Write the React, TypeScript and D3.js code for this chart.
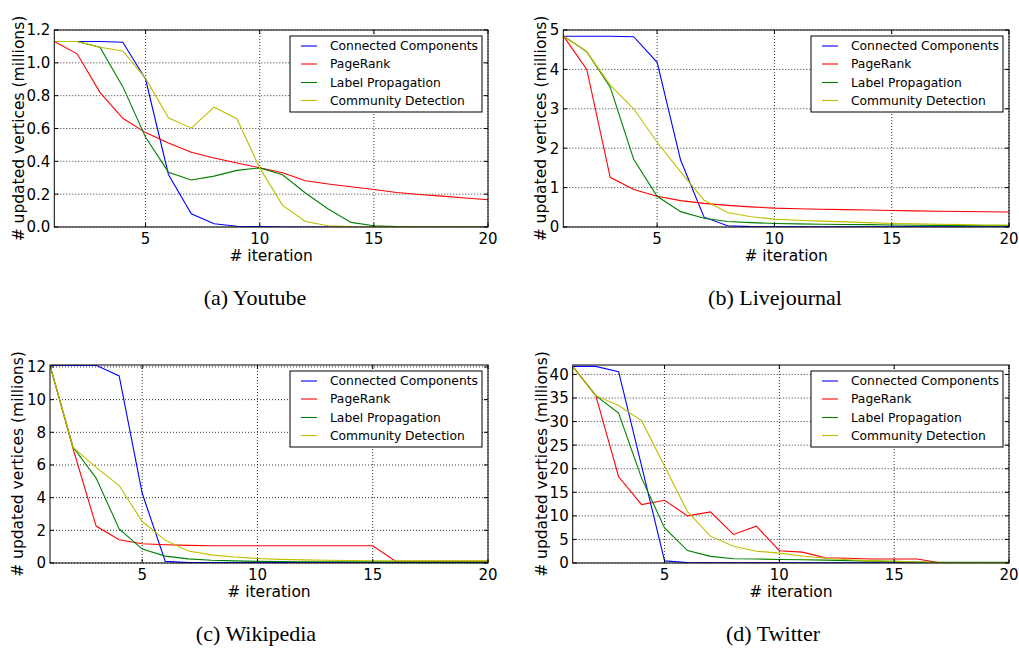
import React from "react";
import * as d3 from "d3";

// iterations 1..20
const iterations = d3.range(1, 21);

const seriesNames = ["Connected Components", "PageRank", "Label Propagation", "Community Detection"];
const seriesColors = ["#0000ff", "#ff0000", "#008000", "#bfbf00"];

// Youtube
const youtubeCC = [1.13, 1.13, 1.13, 1.125, 0.9, 0.32, 0.08, 0.02, 0.005, 0.002, 0, 0, 0, 0, 0, 0, 0, 0, 0, 0];
const youtubePR = [1.13, 1.055, 0.82, 0.662, 0.575, 0.511, 0.455, 0.42, 0.39, 0.361, 0.33, 0.282, 0.262, 0.245, 0.228, 0.21, 0.198, 0.188, 0.177, 0.166];
const youtubeLP = [1.13, 1.13, 1.095, 0.855, 0.547, 0.334, 0.286, 0.31, 0.345, 0.36, 0.318, 0.207, 0.11, 0.028, 0.008, 0.002, 0, 0, 0, 0];
const youtubeCD = [1.13, 1.13, 1.095, 1.072, 0.905, 0.665, 0.602, 0.73, 0.66, 0.36, 0.132, 0.034, 0.008, 0.002, 0, 0, 0, 0, 0, 0];

// Livejournal
const livejournalCC = [4.84, 4.84, 4.84, 4.83, 4.18, 1.7, 0.25, 0.03, 0.01, 0.005, 0.005, 0.005, 0.005, 0.005, 0.005, 0.005, 0.005, 0.005, 0.005, 0.005];
const livejournalPR = [4.85, 4.0, 1.26, 0.95, 0.78, 0.67, 0.6, 0.55, 0.51, 0.48, 0.465, 0.45, 0.44, 0.43, 0.42, 0.41, 0.4, 0.395, 0.387, 0.38];
const livejournalLP = [4.85, 4.45, 3.55, 1.72, 0.78, 0.39, 0.22, 0.14, 0.11, 0.09, 0.08, 0.07, 0.065, 0.06, 0.05, 0.045, 0.04, 0.035, 0.03, 0.03];
const livejournalCD = [4.85, 4.45, 3.6, 3.0, 2.15, 1.4, 0.68, 0.37, 0.26, 0.2, 0.17, 0.15, 0.13, 0.11, 0.09, 0.08, 0.07, 0.06, 0.05, 0.05];

// Wikipedia
const wikipediaCC = [12.1, 12.1, 12.1, 11.45, 4.27, 0.1, 0.02, 0.02, 0.02, 0.02, 0.02, 0.02, 0.02, 0.02, 0.02, 0.02, 0.02, 0.02, 0.02, 0.02];
const wikipediaPR = [12.1, 7.0, 2.26, 1.42, 1.18, 1.12, 1.08, 1.06, 1.06, 1.06, 1.06, 1.06, 1.06, 1.06, 1.06, 0.1, 0.1, 0.1, 0.1, 0.1];
const wikipediaLP = [12.1, 7.1, 5.2, 2.09, 0.85, 0.42, 0.25, 0.17, 0.13, 0.1, 0.09, 0.08, 0.08, 0.07, 0.07, 0.07, 0.07, 0.07, 0.07, 0.07];
const wikipediaCD = [12.1, 7.08, 5.85, 4.74, 2.54, 1.4, 0.73, 0.5, 0.37, 0.28, 0.22, 0.19, 0.17, 0.15, 0.14, 0.13, 0.13, 0.13, 0.13, 0.13];

// Twitter
const twitterCC = [41.7, 41.7, 40.6, 20.6, 0.45, 0.1, 0.05, 0.05, 0.05, 0.05, 0.05, 0.05, 0.05, 0.05, 0.05, 0.05, 0.05, 0.05, 0.05, 0.05];
const twitterPR = [41.7, 35.6, 18.3, 12.4, 13.3, 10.0, 10.85, 6.05, 7.8, 2.6, 2.3, 1.1, 1.0, 0.85, 0.85, 0.85, 0.05, 0.05, 0.05, 0.05];
const twitterLP = [41.7, 35.5, 31.8, 18.0, 7.45, 2.63, 1.4, 0.9, 0.85, 0.75, 0.7, 0.6, 0.5, 0.4, 0.3, 0.2, 0.15, 0.15, 0.15, 0.15];
const twitterCD = [41.7, 35.5, 33.4, 30.2, 20.5, 10.9, 5.7, 3.55, 2.5, 2.1, 1.5, 1.0, 0.7, 0.5, 0.4, 0.2, 0.05, 0.05, 0.05, 0.05];

const xTicks = [5, 10, 15, 20];
const youtubeTicks = [0, 0.2, 0.4, 0.6, 0.8, 1.0, 1.2];
const livejournalTicks = [0, 1, 2, 3, 4, 5];
const wikipediaTicks = [0, 2, 4, 6, 8, 10, 12];
const twitterTicks = [0, 5, 10, 15, 20, 25, 30, 35, 40];

const panels = [
  { id: "a", caption: "(a) Youtube", series: [youtubeCC, youtubePR, youtubeLP, youtubeCD], yMax: 1.2, yTicks: youtubeTicks, fmt: d3.format(".1f"),
    left: 54.3, right: 488, top: 30, bottom: 227, ylabelX: 18, captionX: 255, captionY: 305 },
  { id: "b", caption: "(b) Livejournal", series: [livejournalCC, livejournalPR, livejournalLP, livejournalCD], yMax: 5, yTicks: livejournalTicks, fmt: d3.format("d"),
    left: 563.3, right: 1009, top: 30, bottom: 227, ylabelX: 540, captionX: 775, captionY: 305 },
  { id: "c", caption: "(c) Wikipedia", series: [wikipediaCC, wikipediaPR, wikipediaLP, wikipediaCD], yMax: 12.12, yTicks: wikipediaTicks, fmt: d3.format("d"),
    left: 50, right: 488, top: 365, bottom: 563, ylabelX: 17, captionX: 256, captionY: 641 },
  { id: "d", caption: "(d) Twitter", series: [twitterCC, twitterPR, twitterLP, twitterCD], yMax: 42, yTicks: twitterTicks, fmt: d3.format("d"),
    left: 572.7, right: 1009, top: 365, bottom: 563, ylabelX: 541.5, captionX: 773, captionY: 641 },
];

const sans = "'DejaVu Sans', sans-serif";
const serif = "'Liberation Serif', 'Times New Roman', serif";

function Panel({ p }: { p: any }) {
  const x = d3.scaleLinear().domain([1, 20]).range([p.left, p.right]);
  const y = d3.scaleLinear().domain([0, p.yMax]).range([p.bottom, p.top]);
  const line = d3
    .line<number>()
    .x((_, i) => x(iterations[i]))
    .y((d) => y(d));
  const tickLen = 4;
  const midY = (p.top + p.bottom) / 2;
  const lgW = 192;
  const lgH = 76;
  const lgX = p.right - 6 - lgW;
  const lgY = p.top + 6;
  const rowY = [10, 28, 46.5, 64.5];

  return (
    <g>
      <defs>
        <clipPath id={"clip-" + p.id}>
          <rect x={p.left} y={p.top} width={p.right - p.left} height={p.bottom - p.top} />
        </clipPath>
      </defs>
      {/* grid */}
      {xTicks.map((t) => (
        <line key={"gx" + t} x1={x(t)} x2={x(t)} y1={p.top} y2={p.bottom} stroke="#000" strokeWidth={0.8} strokeDasharray="1,2" />
      ))}
      {p.yTicks.map((t: number) => (
        <line key={"gy" + t} x1={p.left} x2={p.right} y1={y(t)} y2={y(t)} stroke="#000" strokeWidth={0.8} strokeDasharray="1,2" />
      ))}
      {/* series */}
      <g clipPath={`url(#clip-${p.id})`}>
        {p.series.map((s: number[], i: number) => (
          <path key={i} d={line(s) || ""} fill="none" stroke={seriesColors[i]} strokeWidth={1.1} />
        ))}
      </g>
      {/* frame */}
      <rect x={p.left} y={p.top} width={p.right - p.left} height={p.bottom - p.top} fill="none" stroke="#000" strokeWidth={1} />
      {/* ticks */}
      {xTicks.map((t) => (
        <g key={"tx" + t}>
          <line x1={x(t)} x2={x(t)} y1={p.bottom} y2={p.bottom - tickLen} stroke="#000" />
          <line x1={x(t)} x2={x(t)} y1={p.top} y2={p.top + tickLen} stroke="#000" />
          <text x={x(t)} y={p.bottom + 17} textAnchor="middle" fontFamily={sans} fontSize={15}>
            {t}
          </text>
        </g>
      ))}
      {p.yTicks.map((t: number) => (
        <g key={"ty" + t}>
          <line x1={p.left} x2={p.left + tickLen} y1={y(t)} y2={y(t)} stroke="#000" />
          <line x1={p.right} x2={p.right - tickLen} y1={y(t)} y2={y(t)} stroke="#000" />
          <text x={p.left - 4} y={y(t)} dy="0.36em" textAnchor="end" fontFamily={sans} fontSize={15}>
            {p.fmt(t)}
          </text>
        </g>
      ))}
      {/* axis labels */}
      <text x={(p.left + p.right) / 2} y={p.bottom + 34} textAnchor="middle" fontFamily={sans} fontSize={15.5}>
        # iteration
      </text>
      <text
        transform={`translate(${p.ylabelX},${midY}) rotate(-90)`}
        dy="0.36em"
        textAnchor="middle"
        fontFamily={sans}
        fontSize={15.5}
      >
        # updated vertices (millions)
      </text>
      {/* legend */}
      <rect x={lgX} y={lgY} width={lgW} height={lgH} fill="#fff" stroke="#000" strokeWidth={1} />
      {seriesNames.map((name, i) => (
        <g key={name}>
          <line x1={lgX + 11} x2={lgX + 27} y1={lgY + rowY[i]} y2={lgY + rowY[i]} stroke={seriesColors[i]} strokeWidth={1.1} />
          <text x={lgX + 40} y={lgY + rowY[i]} dy="0.36em" fontFamily={sans} fontSize={12.3}>
            {name}
          </text>
        </g>
      ))}
      {/* caption */}
      <text x={p.captionX} y={p.captionY} textAnchor="middle" fontFamily={serif} fontSize={22}>
        {p.caption}
      </text>
    </g>
  );
}

export default function App() {
  return (
    <svg width={1019} height={648} style={{ position: "absolute", left: 0, top: 0, background: "#fff" }}>
      <rect width={1019} height={648} fill="#fff" />
      {panels.map((p) => (
        <Panel key={p.id} p={p} />
      ))}
    </svg>
  );
}
